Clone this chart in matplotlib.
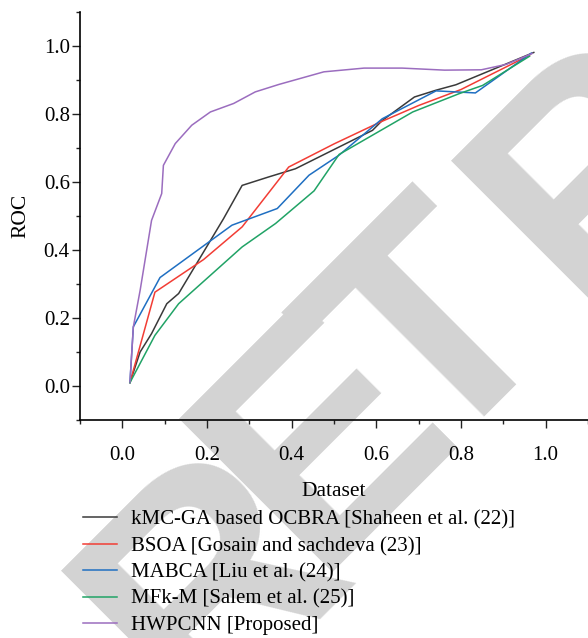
import matplotlib.pyplot as plt

plt.rcParams['font.family'] = ['Liberation Serif', 'DejaVu Serif']

labels = ['kMC-GA based OCBRA [Shaheen et al. (22)]',
          'BSOA [Gosain and sachdeva (23)]',
          'MABCA [Liu et al. (24)]',
          'MFk-M [Salem et al. (25)]',
          'HWPCNN [Proposed]']
colors = ['#3a3a3a', '#f23d35', '#1f6fc2', '#21a366', '#9b6dbf']

kmc_x = [0.018, 0.042, 0.069, 0.105, 0.133, 0.239, 0.283, 0.346, 0.409, 0.591, 0.614, 0.690, 0.741, 0.788, 0.972]
kmc_y = [0.010, 0.100, 0.154, 0.242, 0.272, 0.492, 0.590, 0.615, 0.639, 0.752, 0.781, 0.850, 0.870, 0.886, 0.981]

bsoa_x = [0.018, 0.077, 0.192, 0.283, 0.393, 0.500, 0.607, 0.700, 0.800, 0.962]
bsoa_y = [0.010, 0.276, 0.372, 0.468, 0.644, 0.712, 0.775, 0.825, 0.872, 0.973]

mabca_x = [0.018, 0.026, 0.089, 0.259, 0.366, 0.441, 0.512, 0.614, 0.741, 0.834, 0.966]
mabca_y = [0.010, 0.174, 0.319, 0.473, 0.522, 0.620, 0.679, 0.786, 0.868, 0.862, 0.979]

mfkm_x = [0.018, 0.077, 0.133, 0.283, 0.362, 0.453, 0.512, 0.686, 0.796, 0.851, 0.962]
mfkm_y = [0.010, 0.149, 0.242, 0.409, 0.478, 0.574, 0.681, 0.806, 0.860, 0.884, 0.970]

hwp_x = [0.018, 0.026, 0.042, 0.069, 0.093, 0.097, 0.125, 0.164, 0.208, 0.263, 0.314, 0.370,
         0.476, 0.571, 0.661, 0.761, 0.848, 0.907, 0.968]
hwp_y = [0.012, 0.174, 0.281, 0.487, 0.566, 0.649, 0.713, 0.767, 0.806, 0.831, 0.865, 0.887,
         0.924, 0.935, 0.935, 0.929, 0.930, 0.946, 0.978]

series_x = [kmc_x, bsoa_x, mabca_x, mfkm_x, hwp_x]
series_y = [kmc_y, bsoa_y, mabca_y, mfkm_y, hwp_y]

W, H = 588, 638
fig = plt.figure(figsize=(W / 100, H / 100), dpi=100)

# "RETRACTED" watermark, letter by letter (pixel anchors on the baseline)
wm = [('R', 194, 724, 'left'), ('E', 312, 572, 'left'), ('T', 500, 398, 'center'),
      ('R', 584, 314, 'left'), ('ACTED', 729, 169, 'left')]
for s, px, py, ha in wm:
    fig.text(px / W, 1 - py / H, s, rotation=45, rotation_mode='anchor', ha=ha,
             va='baseline', fontsize=227, fontweight='bold', color='#d3d3d3',
             family='Liberation Sans', zorder=-1)

ax = fig.add_axes([80 / W, 1 - 420 / H, 508 / W, 408 / H])
ax.patch.set_alpha(0)

for xs, ys, c, lab in zip(series_x, series_y, colors, labels):
    ax.plot(xs, ys, color=c, lw=1.1, label=lab)

ax.set_xlim(-0.1, 1.1)
ax.set_ylim(-0.1, 1.1)
ax.set_xticks([0.0, 0.2, 0.4, 0.6, 0.8, 1.0])
ax.set_yticks([0.0, 0.2, 0.4, 0.6, 0.8, 1.0])
ax.set_xticks([-0.1, 0.1, 0.3, 0.5, 0.7, 0.9, 1.1], minor=True)
ax.set_yticks([-0.1, 0.1, 0.3, 0.5, 0.7, 0.9, 1.1], minor=True)
ax.tick_params(which='major', length=5.8, width=1, labelsize=15, color='#222222')
ax.tick_params(which='minor', length=3, width=1, color='#222222')
ax.tick_params(axis='x', which='major', pad=13)
ax.tick_params(axis='y', which='major', pad=1.5)
ax.spines['top'].set_visible(False)
ax.spines['right'].set_visible(False)
ax.spines['left'].set_linewidth(1.2)
ax.spines['bottom'].set_linewidth(1.2)
ax.set_xlabel('Dataset', fontsize=15.5, labelpad=12)
ax.set_ylabel('ROC', fontsize=15.5)
ax.yaxis.set_label_coords(-0.098, 0.5)

fig.legend(loc='upper left', bbox_to_anchor=(83 / W, 1 - 510 / H), frameon=False,
           fontsize=15, handlelength=1.63, handletextpad=0.67, labelspacing=0.33,
           borderpad=0, borderaxespad=0)

fig.savefig('out.png', dpi=100)
